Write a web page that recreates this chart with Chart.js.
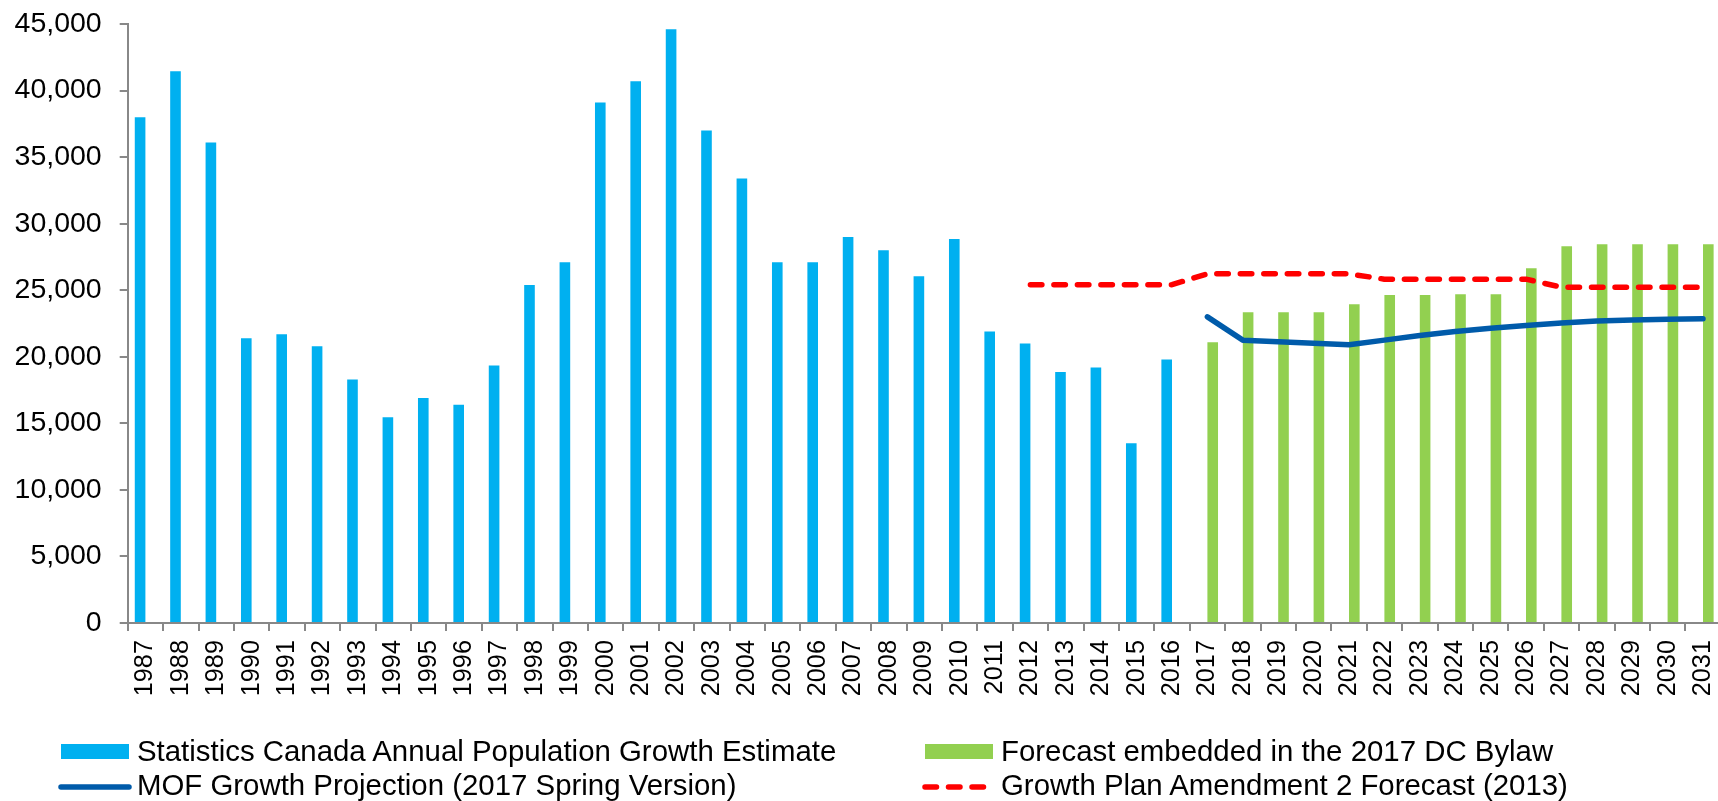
<!DOCTYPE html>
<html>
<head>
<meta charset="utf-8">
<title>Annual Population Growth</title>
<script src="https://cdn.jsdelivr.net/npm/chart.js@4.4.1/dist/chart.umd.min.js"></script>
<style>
    html, body { margin: 0; padding: 0; background: #fff; overflow: hidden; }
    #wrap { position: relative; width: 1722px; height: 801px; }
    #legend {
        position: absolute;
        left: 58px;
        top: 734px;
        display: grid;
        grid-template-columns: 864px auto;
        font: 29.4px "Liberation Sans", Arial, sans-serif;
        line-height: 34px;
        color: #000;
        white-space: nowrap;
    }
    .legend-item { display: flex; align-items: center; }
    .legend-item canvas { margin-right: 5px; }
</style>
</head>
<body>
<div id="wrap">
    <canvas id="growthChart" width="1722" height="801"></canvas>
    <div id="legend"></div>
</div>

<script>
// Années
const years = [
    '1987', '1988', '1989', '1990', '1991', '1992', '1993', '1994', '1995',
    '1996', '1997', '1998', '1999', '2000', '2001', '2002', '2003', '2004',
    '2005', '2006', '2007', '2008', '2009', '2010', '2011', '2012', '2013',
    '2014', '2015', '2016', '2017', '2018', '2019', '2020', '2021', '2022',
    '2023', '2024', '2025', '2026', '2027', '2028', '2029', '2030', '2031'
];

// Statistique Canada, estimation annuelle (1987-2016)
const statsCanEstimate = [
    38000, 41450, 36100, 21400, 21700, 20800, 18300, 15450, 16900,
    16400, 19350, 25400, 27100, 39100, 40700, 44600, 37000, 33400,
    27100, 27100, 29000, 28000, 26050, 28850, 21900, 21000, 18850,
    19200, 13500, 19800, null, null, null, null, null, null,
    null, null, null, null, null, null, null, null, null
];

// Prévision du règlement DC 2017 (2017-2031)
const dcForecast = [
    null, null, null, null, null, null, null, null, null,
    null, null, null, null, null, null, null, null, null,
    null, null, null, null, null, null, null, null, null,
    null, null, null, 21100, 23350, 23350, 23350, 23950, 24650,
    24650, 24700, 24700, 26650, 28300, 28450, 28450, 28450, 28450
];

// Projection MOF printemps 2017
const mofProjection = [
    null, null, null, null, null, null, null, null, null,
    null, null, null, null, null, null, null, null, null,
    null, null, null, null, null, null, null, null, null,
    null, null, null, 23000, 21250, 21120, 21020, 20900, 21250,
    21600, 21900, 22150, 22350, 22540, 22680, 22760, 22810, 22850
];

// Growth Plan Amendment 2 (2013)
const growthPlanForecast = [
    null, null, null, null, null, null, null, null, null,
    null, null, null, null, null, null, null, null, null,
    null, null, null, null, null, null, null, 25420, 25420,
    25420, 25420, 25420, 26230, 26230, 26230, 26230, 26230, 25830,
    25830, 25830, 25830, 25830, 25230, 25230, 25230, 25230, 25230
];

const FONT = '"Liberation Sans", Arial, sans-serif';
const AXIS_GREY = '#888888';

// Légende HTML sur deux colonnes, pastilles dessinées avec le style des datasets
const htmlLegend = {
    id: 'htmlLegend',
    afterUpdate(chart) {
        const box = document.getElementById('legend');
        box.innerHTML = '';
        chart.data.datasets.forEach(ds => {
            const item = document.createElement('div');
            item.className = 'legend-item';

            const sw = document.createElement('canvas');
            sw.width = 74;
            sw.height = 20;
            const ctx = sw.getContext('2d');
            if (ds.type === 'line') {
                ctx.strokeStyle = ds.borderColor;
                ctx.lineWidth = ds.borderWidth;
                ctx.lineCap = 'round';
                ctx.setLineDash(ds.borderDash || []);
                ctx.beginPath();
                ctx.moveTo(3, 12);
                ctx.lineTo(ds.borderDash ? 62 : 71, 12);
                ctx.stroke();
            } else {
                ctx.fillStyle = ds.backgroundColor;
                ctx.fillRect(3, 3, 68, 15);
            }

            const label = document.createElement('span');
            label.textContent = ds.label;

            item.appendChild(sw);
            item.appendChild(label);
            box.appendChild(item);
        });
    }
};

new Chart(document.getElementById('growthChart'), {
    data: {
        labels: years,
        datasets: [
            {
                type: 'bar',
                label: 'Statistics Canada Annual Population Growth Estimate',
                data: statsCanEstimate,
                backgroundColor: '#00B0F0',
                categoryPercentage: 0.6,
                barPercentage: 1.0,
                order: 2
            },
            {
                type: 'bar',
                label: 'Forecast embedded in the 2017 DC Bylaw',
                data: dcForecast,
                backgroundColor: '#92D050',
                categoryPercentage: 0.6,
                barPercentage: 1.0,
                order: 2
            },
            {
                type: 'line',
                label: 'MOF Growth Projection (2017 Spring Version)',
                data: mofProjection,
                borderColor: '#005BAA',
                borderWidth: 5.5,
                borderCapStyle: 'round',
                borderJoinStyle: 'round',
                pointRadius: 0,
                tension: 0,
                order: 1
            },
            {
                type: 'line',
                label: 'Growth Plan Amendment 2 Forecast (2013)',
                data: growthPlanForecast,
                borderColor: '#FF0000',
                borderWidth: 5.5,
                borderDash: [11.5, 12],
                borderCapStyle: 'round',
                borderJoinStyle: 'round',
                pointRadius: 0,
                tension: 0,
                order: 0
            }
        ]
    },
    options: {
        responsive: false,
        animation: false,
        locale: 'en-US',
        layout: {
            padding: { top: 24, right: 1.3, bottom: 88, left: 0 }
        },
        plugins: {
            legend: { display: false },
            tooltip: { enabled: false }
        },
        scales: {
            x: {
                offset: true,
                grid: {
                    offset: true,
                    drawOnChartArea: false,
                    color: AXIS_GREY,
                    lineWidth: 2,
                    tickLength: 8
                },
                border: { color: AXIS_GREY, width: 2 },
                ticks: {
                    color: '#000',
                    font: { family: FONT, size: 25.3 },
                    minRotation: 90,
                    maxRotation: 90,
                    autoSkip: false,
                    padding: 9
                },
                afterFit(scale) {
                    scale.height = 90;
                    // la dernière étiquette peut déborder, la zone reste fixe
                    scale.paddingLeft = 0;
                    scale.paddingRight = 0;
                }
            },
            y: {
                min: 0,
                max: 45000,
                grid: {
                    drawOnChartArea: false,
                    color: AXIS_GREY,
                    lineWidth: 2,
                    tickLength: 8
                },
                border: { color: AXIS_GREY, width: 2 },
                ticks: {
                    stepSize: 5000,
                    color: '#000',
                    font: { family: FONT, size: 28.5 },
                    padding: 18
                },
                afterFit(scale) {
                    scale.width = 127.7;
                    scale.paddingTop = 0;
                    scale.paddingBottom = 0;
                }
            }
        }
    },
    plugins: [htmlLegend]
});
</script>
</body>
</html>
